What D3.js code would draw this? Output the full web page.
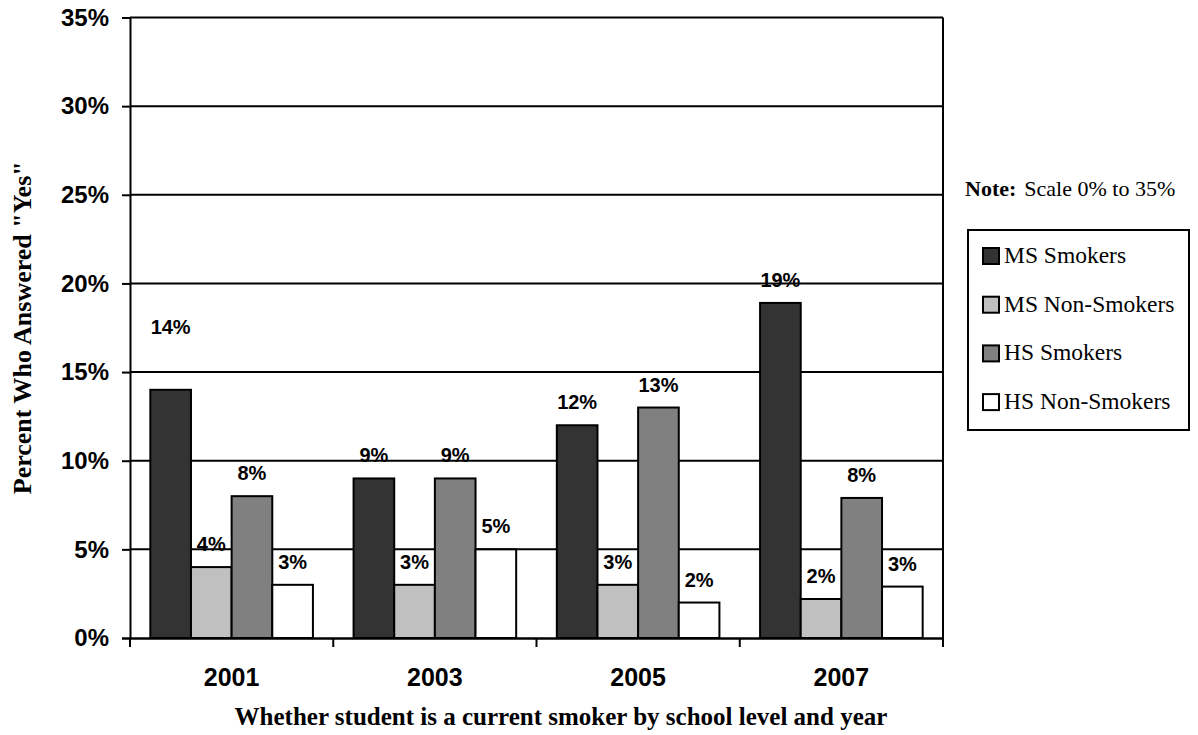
<!DOCTYPE html>
<html>
<head>
<meta charset="utf-8">
<script src="https://cdn.jsdelivr.net/npm/d3@7"></script>
<style>
  html, body { margin: 0; padding: 0; background: #fff; }
  svg { display: block; }
  .sans { font-family: "Liberation Sans", Arial, sans-serif; font-weight: bold; }
  .serif { font-family: "Liberation Serif", "Times New Roman", serif; }
</style>
</head>
<body>
<svg id="chart" width="1198" height="735"></svg>
<script>
// Survey years (one group of bars per year)
const years = ["2001", "2003", "2005", "2007"];
// Series shown in each group, in drawing order
const seriesNames = ["MS Smokers", "MS Non-Smokers", "HS Smokers", "HS Non-Smokers"];
// Share answering "Yes", per year
const msSmokers    = [0.14, 0.09, 0.12, 0.189];
const msNonSmokers = [0.04, 0.03, 0.03, 0.022];
const hsSmokers    = [0.08, 0.09, 0.13, 0.079];
const hsNonSmokers = [0.03, 0.05, 0.02, 0.029];
// Value axis ticks
const yTicks = [0, 0.05, 0.10, 0.15, 0.20, 0.25, 0.30, 0.35];

const seriesValues = [msSmokers, msNonSmokers, hsSmokers, hsNonSmokers];
const fills = ["#333333", "#c0c0c0", "#808080", "#ffffff"];

const svg = d3.select("#chart");
const plot = { left: 130, right: 943, top: 17.5, bottom: 638 };

const x0 = d3.scaleBand().domain(years).range([plot.left, plot.right]).paddingInner(0).paddingOuter(0);
const x1 = d3.scaleBand().domain(seriesNames).range([0, x0.bandwidth()]).paddingInner(0).paddingOuter(0.5);
const y = d3.scaleLinear().domain([0, 0.35]).range([plot.bottom, plot.top]);
const color = d3.scaleOrdinal().domain(seriesNames).range(fills);
const pct = d3.format(".0%");

// Horizontal gridlines
svg.append("g")
  .selectAll("line")
  .data(yTicks.slice(1))
  .join("line")
  .attr("x1", plot.left).attr("x2", plot.right)
  .attr("y1", d => y(d)).attr("y2", d => y(d))
  .attr("stroke", "#000").attr("stroke-width", 2);

// Right border of the plot area
svg.append("line")
  .attr("x1", plot.right).attr("x2", plot.right)
  .attr("y1", y(0.35)).attr("y2", y(0))
  .attr("stroke", "#000").attr("stroke-width", 2);

// Rows for bars
const rows = [];
years.forEach((yr, i) => {
  seriesNames.forEach((s, j) => rows.push({ year: yr, series: s, value: seriesValues[j][i] }));
});

// Bars
svg.append("g")
  .selectAll("rect")
  .data(rows)
  .join("rect")
  .attr("x", d => x0(d.year) + x1(d.series))
  .attr("y", d => y(d.value))
  .attr("width", x1.bandwidth())
  .attr("height", d => y(0) - y(d.value))
  .attr("fill", d => color(d.series))
  .attr("stroke", "#000")
  .attr("stroke-width", 2);

// Value labels above the bars
const liftExtra = d => (d.year === "2001" && d.series === "MS Smokers") ? 40 : 0;
svg.append("g")
  .selectAll("text")
  .data(rows)
  .join("text")
  .attr("class", "sans")
  .attr("font-size", 20)
  .attr("text-anchor", "middle")
  .attr("x", d => x0(d.year) + x1(d.series) + x1.bandwidth() / 2)
  .attr("y", d => y(d.value) - 16 - liftExtra(d))
  .text(d => pct(d.value));

// Y axis
const yAxis = svg.append("g")
  .attr("transform", `translate(${plot.left},0)`)
  .call(d3.axisLeft(y).tickValues(yTicks).tickFormat(pct).tickSize(8).tickPadding(13));
yAxis.select(".domain").attr("stroke", "#000").attr("stroke-width", 2);
yAxis.selectAll(".tick line").attr("stroke", "#000").attr("stroke-width", 2);
yAxis.selectAll(".tick text")
  .attr("class", "sans")
  .attr("font-size", 24)
  .attr("fill", "#000");

// X axis: baseline, category boundary ticks, year labels
const xAxis = svg.append("g")
  .attr("transform", `translate(0,${plot.bottom})`)
  .call(d3.axisBottom(x0).tickSize(0).tickPadding(30));
xAxis.select(".domain").attr("stroke", "#000").attr("stroke-width", 2.5);
xAxis.selectAll(".tick text")
  .attr("class", "sans")
  .attr("font-size", 25)
  .attr("fill", "#000");

const bounds = years.map(d => x0(d)).concat([x0.range()[1]]);
svg.append("g")
  .selectAll("line")
  .data(bounds)
  .join("line")
  .attr("x1", d => d).attr("x2", d => d)
  .attr("y1", plot.bottom).attr("y2", plot.bottom + 9)
  .attr("stroke", "#000").attr("stroke-width", 2);

// Axis titles
svg.append("text")
  .attr("class", "serif")
  .attr("font-weight", "bold")
  .attr("font-size", 25)
  .attr("text-anchor", "middle")
  .attr("x", 561)
  .attr("y", 725)
  .text("Whether student is a current smoker by school level and year");

svg.append("text")
  .attr("class", "serif")
  .attr("font-weight", "bold")
  .attr("font-size", 26)
  .attr("text-anchor", "middle")
  .attr("transform", `translate(31,${(plot.top + plot.bottom) / 2}) rotate(-90)`)
  .text("Percent Who Answered \"Yes\"");

// Scale note
const note = svg.append("text")
  .attr("class", "serif")
  .attr("font-size", 22)
  .attr("x", 965)
  .attr("y", 196);
note.append("tspan").attr("font-weight", "bold").text("Note:");
note.append("tspan").attr("dx", 8).text("Scale 0% to 35%");

// Legend
const legend = svg.append("g");
legend.append("rect")
  .attr("x", 968).attr("y", 230)
  .attr("width", 221).attr("height", 200)
  .attr("fill", "#fff").attr("stroke", "#000").attr("stroke-width", 2);

const items = legend.selectAll("g.item")
  .data(seriesNames)
  .join("g")
  .attr("class", "item")
  .attr("transform", (d, i) => `translate(983,${248 + i * 48.7})`);
items.append("rect")
  .attr("width", 16).attr("height", 16)
  .attr("fill", d => color(d))
  .attr("stroke", "#000").attr("stroke-width", 2);
items.append("text")
  .attr("class", "serif")
  .attr("font-size", 23.5)
  .attr("x", 21)
  .attr("y", 15)
  .text(d => d);
</script>
</body>
</html>
